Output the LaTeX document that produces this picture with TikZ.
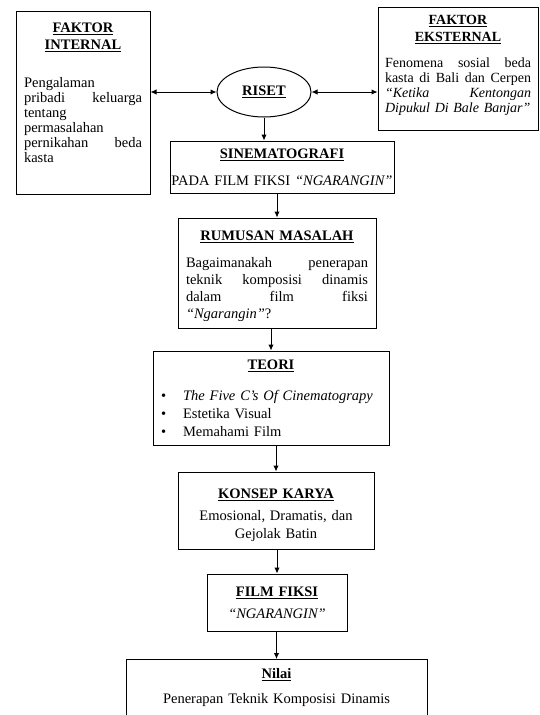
\documentclass[tikz,border=0pt]{standalone}
\usepackage{fontspec}
\setmainfont{Liberation Serif}
\usetikzlibrary{shapes.geometric,arrows.meta}
\newcommand{\judul}[1]{\underline{\textbf{#1}}}
\newcommand{\isi}{\hfill\mbox{}}

\begin{document}
\begin{tikzpicture}[x=1pt, y=-1pt, >={Latex[length=6pt,width=5.5pt]}]
		\clip (0,0) rectangle (540,715);
		\begin{scope}[every node/.style={draw, line width=1pt, inner xsep=8pt, inner ysep=3pt, align=center, font=\fontsize{14.5}{15}\selectfont}]
			\node[ellipse, minimum width=94pt, minimum height=50pt, inner sep=0pt] (riset) at (264,92) {\judul{RISET}};
			\node[text width=118pt, minimum height=183pt] (internal) at (83,102.5) {\judul{FAKTOR}\\[2pt]\judul{INTERNAL}\\[23pt]
				Pengalaman\isi\\ pribadi\hfill keluarga\\ tentang\isi\\ permasalahan\isi\\ pernikahan\hfill beda\\ kasta\isi\rule[-20pt]{0pt}{20pt}};
			\node[text width=146pt, inner xsep=7pt, minimum height=123pt, font=\fontsize{14}{15}\selectfont] (eksternal) at (458,68.5) {\judul{FAKTOR}\\[2pt]\judul{EKSTERNAL}\\[10.5pt]
				Fenomena\hfill sosial\hfill beda\\ kasta\hfill di\hfill Bali\hfill dan\hfill Cerpen\\ \textit{``Ketika\hfill Kentongan}\\ \textit{Dipukul Di Bale Banjar''}\isi\rule[-9pt]{0pt}{9pt}};
			\node[text width=222pt, inner xsep=1pt, minimum height=52pt] (sinema) at (282,167) {\judul{SINEMATOGRAFI}\\[12pt]PADA FILM FIKSI \textit{``NGARANGIN''}};
			\node[text width=182pt, minimum height=110pt] (rumusan) at (277,273) {\rule{0pt}{16pt}\judul{RUMUSAN MASALAH}\\[12pt]
				Bagaimanakah\hfill penerapan\\[2pt] teknik\hfill komposisi\hfill dinamis\\[2pt] dalam\hfill film\hfill fiksi\\[2pt] \textit{``Ngarangin''}?\isi};
			\node[text width=220pt, minimum height=94pt] (teori) at (271,398) {\judul{TEORI}\\[16pt]
				\textbullet\hspace{17pt}\textit{The Five C’s Of Cinematograpy}\isi\\[3pt]
				\textbullet\hspace{17pt}Estetika Visual\isi\\[3pt]
				\textbullet\hspace{17pt}Memahami Film\isi};
			\node[text width=180pt, minimum height=77pt] (konsep) at (276,510.5) {\rule{0pt}{19pt}\judul{KONSEP KARYA}\\[7pt]Emosional, Dramatis, dan\\[3pt]Gejolak Batin};
			\node[text width=124pt, minimum height=57pt] (film) at (277,602.5) {\judul{FILM FIKSI}\\[7pt]\textit{``NGARANGIN''}};
			\node[anchor=north, text width=285pt, minimum height=110pt] (nilai) at (276.5,659) {\judul{Nilai}\\[10pt]Penerapan Teknik Komposisi Dinamis\rule[-57pt]{0pt}{57pt}};
		\end{scope}
		\begin{scope}[every path/.style={line width=1pt}]
			\draw[<->] (riset.west) -- (riset.west -| internal.east);
			\draw[<->] (riset.east) -- (riset.east -| eksternal.west);
			\draw[->] (riset.south) -- (riset.south |- sinema.north);
			\draw[->] (rumusan.north |- sinema.south) -- (rumusan.north);
			\draw[->] (teori.north |- rumusan.south) -- (teori.north);
			\draw[->] (konsep.north |- teori.south) -- (konsep.north);
			\draw[->] (film.north |- konsep.south) -- (film.north);
			\draw[->] (nilai.north |- film.south) -- (nilai.north);
		\end{scope}
\end{tikzpicture}
\end{document}
